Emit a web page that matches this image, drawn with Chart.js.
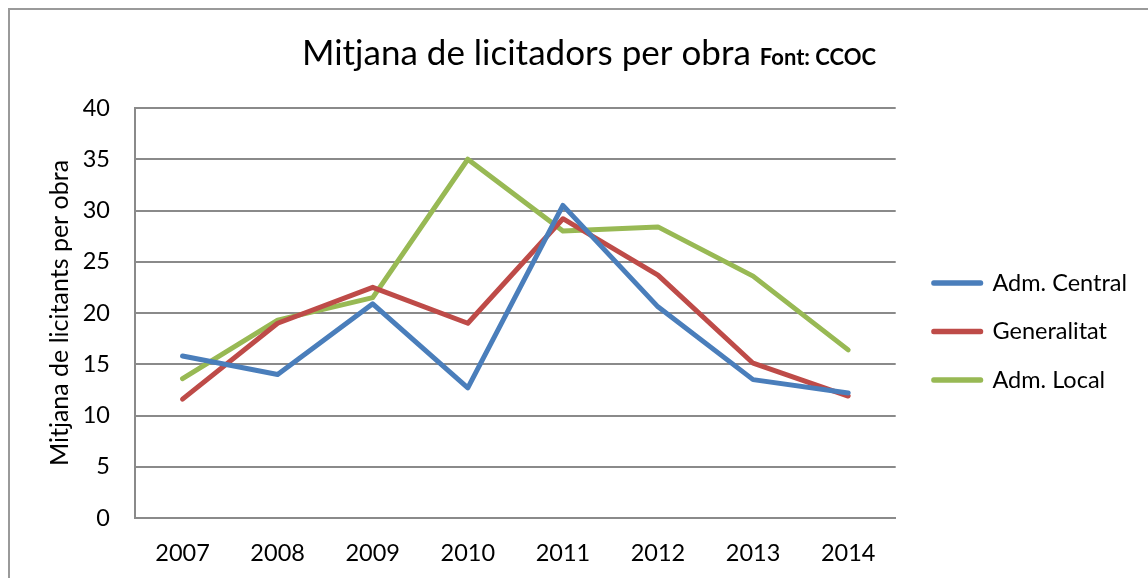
<!DOCTYPE html>
<html>
<head>
<meta charset="utf-8">
<script src="https://cdn.jsdelivr.net/npm/chart.js@4/dist/chart.umd.min.js"></script>
<style>
  body { margin: 0; background: #fff; overflow: hidden; }
  #wrap { position: relative; width: 1148px; height: 578px; overflow: hidden; }
  #frame { position: absolute; left: 8px; top: 8px; width: 2000px; height: 2000px;
           border-top: 2px solid #9a9a9a; border-left: 2px solid #9a9a9a; }
  canvas { position: absolute; left: 0; top: 0; }
</style>
</head>
<body>
<div id="wrap">
  <div id="frame"></div>
  <canvas id="chart" width="1148" height="578"></canvas>
</div>
<script>
// dades llegides del gràfic
const anys = ["2007", "2008", "2009", "2010", "2011", "2012", "2013", "2014"];
const admCentral = [15.8, 14.0, 20.9, 12.7, 30.5, 20.6, 13.5, 12.2];
const generalitat = [11.6, 19.0, 22.5, 19.0, 29.2, 23.7, 15.1, 11.9];
const admLocal = [13.6, 19.3, 21.5, 35.0, 28.0, 28.4, 23.6, 16.4];

const titol = "Mitjana de licitadors per obra";
const subtitol = "Font: CCOC";

// títol amb dues mides de lletra a la mateixa línia
const titolPlugin = {
  id: "titol",
  afterDraw(chart) {
    const c = chart.ctx;
    c.save();
    c.fillStyle = "#000";
    c.textBaseline = "alphabetic";
    c.font = "35px Lato";
    const w1 = c.measureText(titol + " ").width;
    c.font = "bold 22px Lato";
    const w2 = c.measureText(subtitol).width;
    const x0 = 589 - (w1 + w2) / 2;
    c.font = "35px Lato";
    c.fillText(titol + " ", x0, 65);
    c.font = "bold 22px Lato";
    c.fillText(subtitol, x0 + w1, 65);
    c.restore();
  },
};

const linia = (label, data, color) => ({
  label: label,
  data: data,
  borderColor: color,
  backgroundColor: color,
  borderWidth: 5,
  borderCapStyle: "round",
  borderJoinStyle: "round",
  pointRadius: 0,
  tension: 0,
  fill: false,
});

const ctx = document.getElementById("chart").getContext("2d");
const chart = new Chart(ctx, {
  type: "line",
  data: {
    labels: anys,
    datasets: [
      linia("Adm. Central", admCentral, "#4a7ebb"),
      linia("Generalitat", generalitat, "#be4b48"),
      linia("Adm. Local", admLocal, "#98b954"),
    ],
  },
  options: {
    responsive: false,
    animation: false,
    layout: {
      padding: { top: 108, left: 45, right: 11, bottom: 13 },
    },
    plugins: {
      title: { display: false },
      tooltip: { enabled: false },
      legend: {
        position: "right",
        align: "center",
        fullSize: false,
        title: { display: true, text: "", font: { size: 10 }, padding: { top: 25, bottom: 0 } },
        labels: {
          boxWidth: 47,
          boxHeight: 0.5,
          padding: 25,
          color: "#000",
          font: { family: "Lato", size: 23.5 },
        },
      },
    },
    scales: {
      x: {
        offset: true,
        grid: { display: false },
        border: { display: true, color: "#8a8a8a", width: 2 },
        ticks: {
          color: "#000",
          padding: 13,
          maxRotation: 0,
          font: { family: "Lato", size: 23.5 },
        },
        afterFit(scale) {
          scale.height = 47;
        },
      },
      y: {
        min: 0,
        max: 40,
        grid: { color: "#8a8a8a", lineWidth: 2, drawTicks: false },
        border: { display: true, color: "#8a8a8a", width: 2 },
        ticks: {
          stepSize: 5,
          color: "#000",
          padding: 25,
          font: { family: "Lato", size: 23.5 },
        },
        title: {
          display: true,
          text: "Mitjana de licitants per obra",
          color: "#000",
          padding: { top: 0, bottom: 0 },
          font: { family: "Lato", size: 25 },
        },
        afterFit(scale) {
          scale.width = 90;
        },
      },
      // espai buit entre el gràfic i la llegenda
      y2: {
        position: "right",
        display: false,
        afterFit(scale) {
          scale.width = 13;
        },
      },
    },
  },
  plugins: [titolPlugin],
});
</script>
</body>
</html>
